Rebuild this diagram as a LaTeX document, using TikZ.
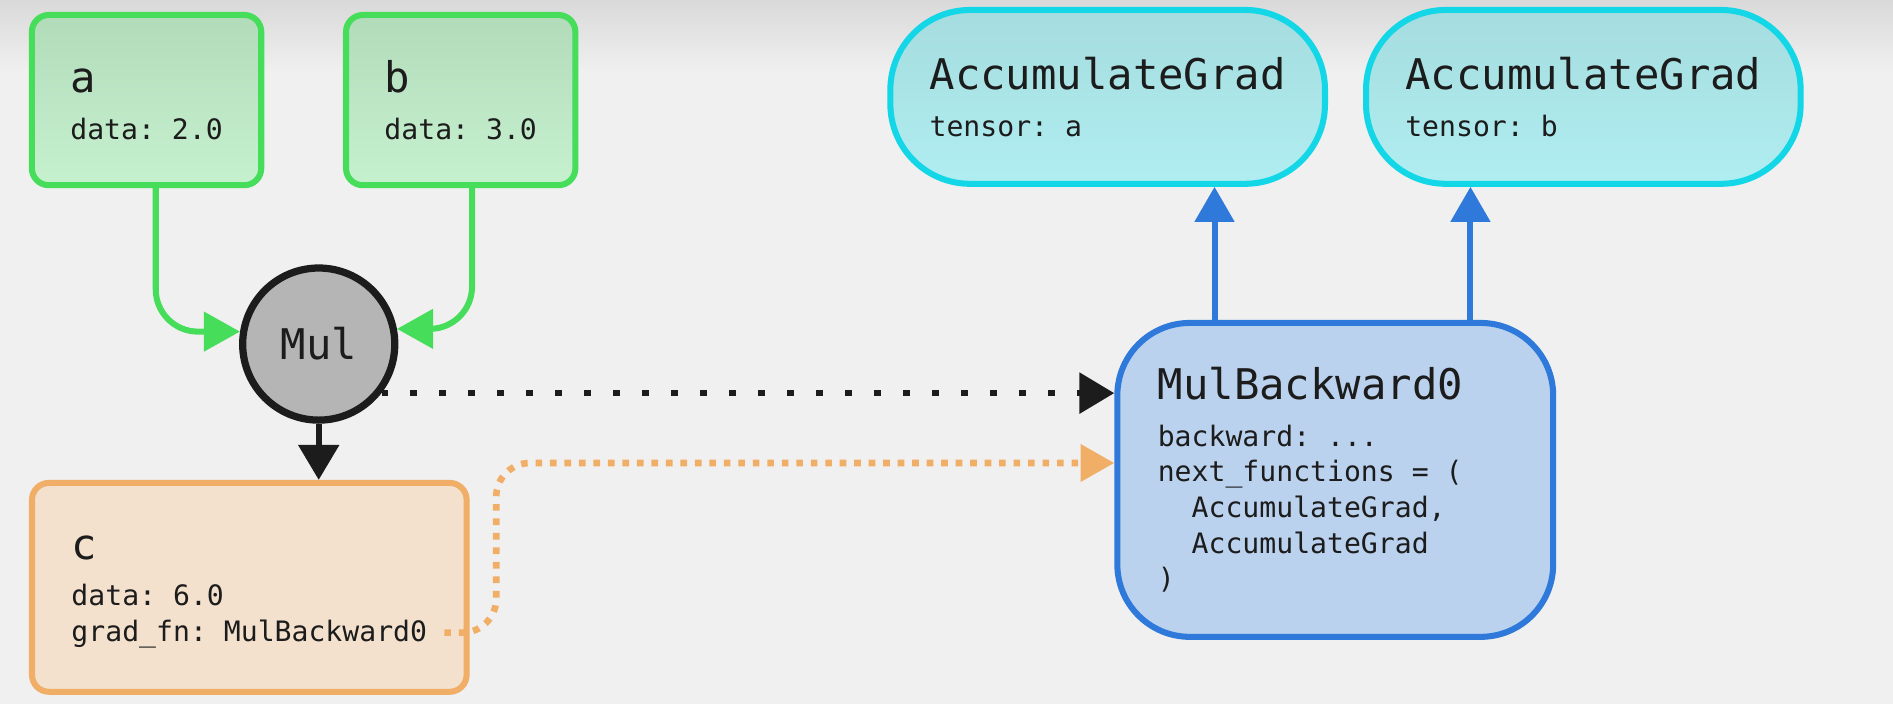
\documentclass[tikz,border=0pt]{standalone}
\usepackage{fontspec}
\setmonofont{DejaVu Sans Mono}
\usepackage{tikz}
\usetikzlibrary{arrows.meta,positioning}

\definecolor{bgcol}{HTML}{F0F0F0}
\definecolor{bgtop}{HTML}{D9D9D9}
\definecolor{inkcol}{HTML}{1C1C1C}
\definecolor{leafline}{HTML}{46DD5B}
\definecolor{leaftop}{HTML}{B2DBBA}
\definecolor{leafbot}{HTML}{C6F1CF}
\definecolor{opfill}{HTML}{B5B5B5}
\definecolor{outline}{HTML}{F0AE67}
\definecolor{outfill}{HTML}{F3E1CD}
\definecolor{fnline}{HTML}{2E79DA}
\definecolor{fnfill}{HTML}{BAD2EE}
\definecolor{accline}{HTML}{13D6E6}
\definecolor{acctop}{HTML}{A5DCDF}
\definecolor{accbot}{HTML}{B0EEF1}

\newcommand{\ttlfont}{\fontsize{35}{42}\selectfont}
\newcommand{\txtfont}{\fontsize{23.3}{29.5}\selectfont}
\newcommand{\ttl}[1]{{\ttlfont\vphantom{Ab}#1}\\[9pt]}
\newcommand{\indt}{\hphantom{xx}}

\tikzset{
  box/.style={rectangle, line width=5pt, align=left, text=inkcol,
              font=\ttfamily\txtfont, inner sep=0pt},
  leaf/.style={box, draw=leafline, top color=leaftop, bottom color=leafbot,
               rounded corners=14pt, minimum width=190pt, minimum height=141pt},
  result/.style={box, draw=outline, fill=outfill, rounded corners=14pt,
                 minimum width=360pt, minimum height=173pt},
  gradfn/.style={box, draw=fnline, fill=fnfill, rounded corners=60pt,
                 align=flush left, text width=294pt, inner xsep=33.5pt,
                 minimum height=260pt},
  accgrad/.style={box, draw=accline, top color=acctop, bottom color=accbot,
                  rounded corners=66pt, minimum width=360pt, minimum height=144pt},
  opnode/.style={circle, draw=inkcol, fill=opfill, line width=6pt,
                 minimum size=126pt, inner sep=0pt, text=inkcol,
                 font=\ttfamily\ttlfont},
  greenarrow/.style={draw=leafline, line width=5pt, rounded corners=35pt,
                     -{Triangle[length=30pt,width=32pt]}},
  fwdarrow/.style={draw=inkcol, line width=5pt,
                   -{Triangle[length=29pt,width=33pt]}},
  backarrow/.style={draw=fnline, line width=5pt,
                    -{Triangle[length=29pt,width=32pt]}},
  linkdots/.style={draw=inkcol, line width=5.5pt, dash pattern=on 5.5pt off 18.5pt,
                   -{Triangle[length=29pt,width=33pt]}},
  fndots/.style={draw=outline, line width=5.5pt, dash pattern=on 5.5pt off 6.5pt,
                 rounded corners=28pt, -{Triangle[length=28pt,width=30pt]}}
}

\begin{document}
\begin{tikzpicture}[x=1pt,y=-1pt]
  % background
  \fill[bgcol] (0,0) rectangle (1568,583);
  \shade[top color=bgtop, bottom color=bgcol] (0,0) rectangle (1568,60);

  % forward graph
  \node[leaf]   (a)   at (121.4,82.9)            {\ttl{a}data: 2.0};
  \node[leaf]   (b)   [right=65.2pt of a]        {\ttl{b}data: 3.0};
  \node[opnode] (Mul) at (264,285)               {Mul};
  \node[result] (c)   at (206.5,486.5)           {\ttl{c}data: 6.0\\grad\_fn: MulBackward0};

  % backward graph
  \node[gradfn]  (MB)  at (1106,397.5)
    {\ttl{MulBackward0}backward: ...\\next\_functions = (\\\indt AccumulateGrad,\\\indt AccumulateGrad\\)};
  \node[accgrad] (AGa) at (917.5,80.25)          {\ttl{AccumulateGrad}tensor: a};
  \node[accgrad] (AGb) [right=29pt of AGa]       {\ttl{AccumulateGrad}tensor: b};

  \coordinate (fnend)  at (368,524);
  \coordinate (fnbend) at (411,383.5);

  \path[greenarrow] (a.south -| 129,0) |- (Mul.171);
  \path[greenarrow] (b.south -| 391,0) |- (Mul.11);
  \path[fwdarrow]   (Mul.south) -- (Mul.south |- c.north);
  \path[linkdots]   (Mul.-38) -- (Mul.-38 -| MB.west);
  \path[fndots]     (fnend) -| (fnbend) -- (fnbend -| MB.west);
  \path[backarrow]  (MB.north -| 1006,0) -- (AGa.south -| 1006,0);
  \path[backarrow]  (MB.north -| 1218,0) -- (AGb.south -| 1218,0);
\end{tikzpicture}
\end{document}
